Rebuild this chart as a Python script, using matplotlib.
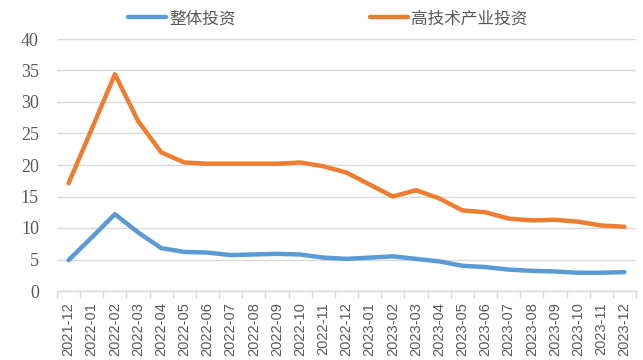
import matplotlib
matplotlib.use("Agg")
import matplotlib.pyplot as plt
from matplotlib.ticker import FixedLocator, MultipleLocator

months = ["2021-12", "2022-01", "2022-02", "2022-03", "2022-04", "2022-05", "2022-06",
          "2022-07", "2022-08", "2022-09", "2022-10", "2022-11", "2022-12",
          "2023-01", "2023-02", "2023-03", "2023-04", "2023-05", "2023-06",
          "2023-07", "2023-08", "2023-09", "2023-10", "2023-11", "2023-12"]
overall = [4.9, 8.5, 12.2, 9.3, 6.8, 6.2, 6.1, 5.7, 5.8, 5.9, 5.8, 5.3, 5.1,
           5.3, 5.5, 5.1, 4.7, 4.0, 3.8, 3.4, 3.2, 3.1, 2.9, 2.9, 3.0]
hightech = [17.1, 25.7, 34.4, 27.0, 22.0, 20.4, 20.2, 20.2, 20.2, 20.2, 20.4, 19.8, 18.8,
            16.9, 15.0, 16.0, 14.7, 12.8, 12.5, 11.5, 11.2, 11.3, 11.0, 10.4, 10.2]
series_names = ["整体投资", "高技术产业投资"]

plt.rcParams['font.family'] = ['Noto Sans CJK SC', 'DejaVu Sans']

fig = plt.figure(figsize=(6.43, 3.6), dpi=100)
ax = fig.add_axes([57/643, 1-291/360, (636-57)/643, (291-39)/360])

x = list(range(len(months)))
l1, = ax.plot(x, overall, color="#5B9BD5", lw=3.2, solid_capstyle="round", solid_joinstyle="round")
l2, = ax.plot(x, hightech, color="#ED7D31", lw=3.2, solid_capstyle="round", solid_joinstyle="round")

ax.set_xlim(-0.5, len(months) - 0.5)
ax.set_ylim(0, 40)
ax.yaxis.set_major_locator(MultipleLocator(5))
ax.grid(axis="y", color="#D9D9D9", lw=1)
ax.set_axisbelow(True)
for s in ["top", "right", "left"]:
    ax.spines[s].set_visible(False)
ax.spines["bottom"].set_color("#D9D9D9")
ax.spines["bottom"].set_linewidth(1)

ax.set_xticks(x)
ax.set_xticklabels(months, rotation=90, fontsize=10.5, color="#595959",
                   family=["Liberation Sans", "DejaVu Sans"])
ax.tick_params(axis="x", which="major", length=0, pad=8)
ax.xaxis.set_minor_locator(FixedLocator([i - 0.5 for i in range(len(months) + 1)]))
ax.tick_params(axis="x", which="minor", length=5, color="#D9D9D9", width=1)
ax.tick_params(axis="y", length=0, pad=13, labelsize=13, labelcolor="#595959")
for lab in ax.get_yticklabels():
    lab.set_family(["Liberation Serif", "DejaVu Serif"])

leg = fig.legend([l1, l2], series_names, loc="center left",
                 bbox_to_anchor=(128/643, 1 - 18.7/360), ncol=2, frameon=False,
                 handlelength=2.3, handletextpad=0.2, columnspacing=8.0,
                 borderpad=0, borderaxespad=0, fontsize=12)
for t in leg.get_texts():
    t.set_color("#595959")

fig.savefig("out.png", dpi=100)
